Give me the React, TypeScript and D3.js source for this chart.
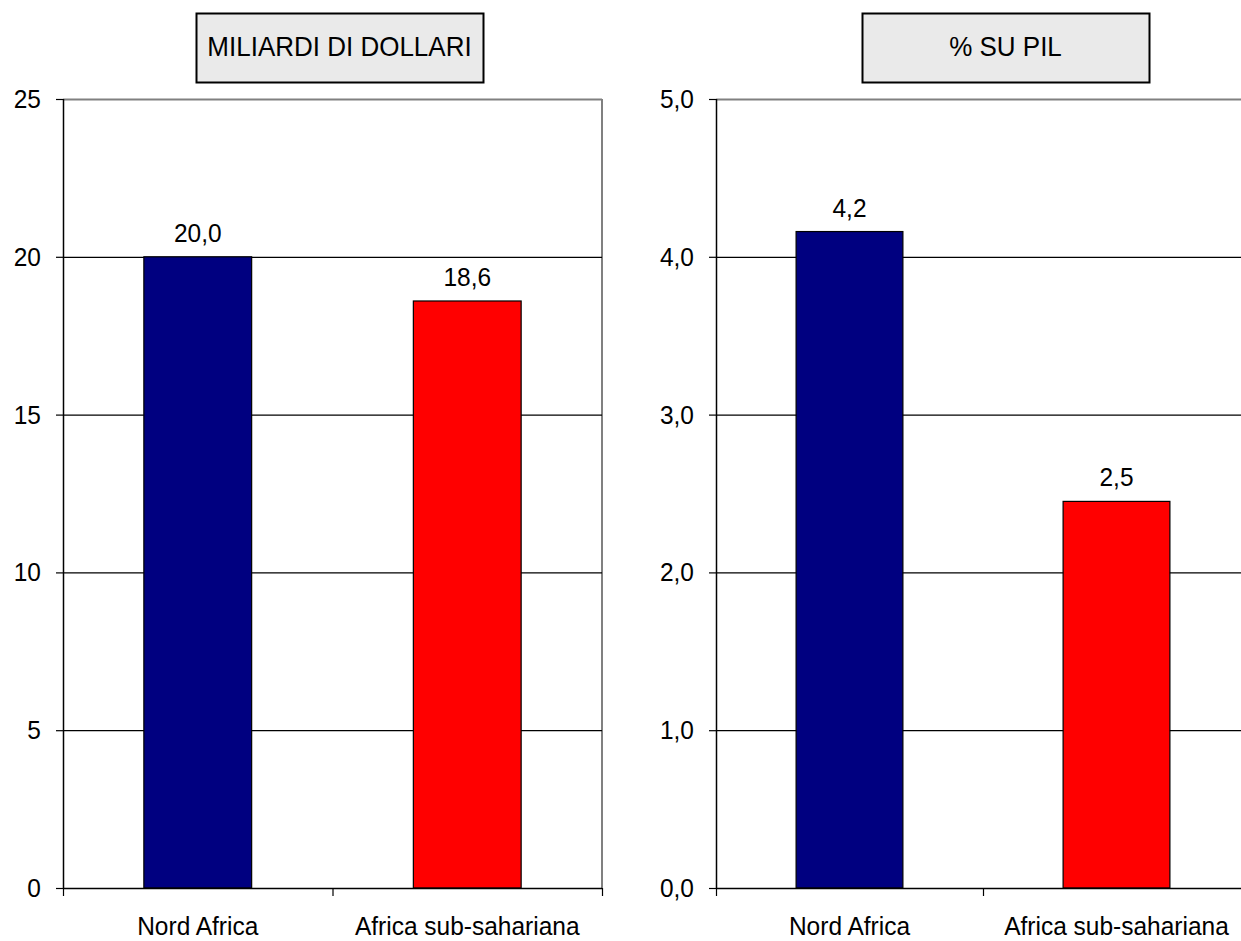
import React from "react";
import * as d3 from "d3";

const categories = ["Nord Africa", "Africa sub-sahariana"];
const valuesBillions = [20.0, 18.6];
const valuesGdpPct = [4.16, 2.45];
const ticksBillions = [0, 5, 10, 15, 20, 25];
const ticksGdp = [0, 1, 2, 3, 4, 5];
const barColors = ["#000080", "#FF0000"];
const titles = ["MILIARDI DI DOLLARI", "% SU PIL"];

const FONT = "'Liberation Sans', Arial, sans-serif";
const TOP = 99;
const BOTTOM = 888;
const STRETCH = 1.08;

function Txt({ x, y, size, anchor, children }: { x: number; y: number; size: number; anchor: string; children: React.ReactNode }) {
  return (
    <text
      transform={`translate(${x},${y}) scale(1,${STRETCH})`}
      textAnchor={anchor}
      fontFamily={FONT}
      fontSize={size}
      fill="#000"
    >
      {children}
    </text>
  );
}

type PanelProps = {
  x0: number;
  x1: number;
  values: number[];
  ticks: number[];
  max: number;
  tickFmt: (v: number) => string;
  title: string;
  titleBox: [number, number];
  showRight: boolean;
};

function Panel({ x0, x1, values, ticks, max, tickFmt, title, titleBox, showRight }: PanelProps) {
  const x = d3.scaleBand<string>().domain(categories).range([x0, x1]).padding(0);
  const y = d3.scaleLinear().domain([0, max]).range([BOTTOM, TOP]);
  const bw = x.bandwidth() * 0.4;
  const fmt = (v: number) => d3.format(".1f")(v).replace(".", ",");
  return (
    <g>
      <rect x={titleBox[0] + 0.5} y={13.5} width={titleBox[1] - titleBox[0]} height={69} fill="#EAEAEA" stroke="#000" strokeWidth={2} />
      <Txt x={(titleBox[0] + titleBox[1]) / 2} y={56} size={26} anchor="middle">
        {title}
      </Txt>
      <line x1={x0} x2={x1} y1={y(max) + 0.5} y2={y(max) + 0.5} stroke="#808080" strokeWidth={2} />
      {showRight && <line x1={x1} x2={x1} y1={TOP} y2={BOTTOM} stroke="#808080" strokeWidth={2} />}
      {ticks.filter((t) => t !== 0 && t !== max).map((t) => (
        <line key={t} x1={x0} x2={x1} y1={y(t) + 0.5} y2={y(t) + 0.5} stroke="#000" strokeWidth={1.2} />
      ))}
      {values.map((v, i) => {
        const cx = (x(categories[i]) as number) + x.bandwidth() / 2;
        return (
          <g key={i}>
            <rect x={cx - bw / 2} y={y(v)} width={bw} height={BOTTOM - y(v)} fill={barColors[i]} stroke="#000" strokeWidth={1.2} />
            <Txt x={cx} y={y(v) - 15} size={24.5} anchor="middle">
              {fmt(v)}
            </Txt>
            <Txt x={cx} y={935} size={24.5} anchor="middle">
              {categories[i]}
            </Txt>
          </g>
        );
      })}
      <line x1={x0 + 0.5} x2={x0 + 0.5} y1={TOP} y2={BOTTOM} stroke="#000" strokeWidth={1.5} />
      {ticks.map((t) => (
        <g key={t}>
          <line x1={x0 - 7} x2={x0} y1={y(t) + 0.5} y2={y(t) + 0.5} stroke="#000" strokeWidth={1.2} />
          <Txt x={x0 - 22} y={y(t) + 9} size={24.5} anchor="end">
            {tickFmt(t)}
          </Txt>
        </g>
      ))}
      <line x1={x0} x2={x1} y1={BOTTOM + 0.5} y2={BOTTOM + 0.5} stroke="#000" strokeWidth={1.5} />
      {[x0, x0 + x.bandwidth(), x1].map((tx, i) => (
        <line key={i} x1={tx + 0.5} x2={tx + 0.5} y1={BOTTOM} y2={BOTTOM + 8} stroke="#000" strokeWidth={1.2} />
      ))}
    </g>
  );
}

export default function App() {
  return (
    <svg width={1241} height={941} style={{ position: "absolute", left: 0, top: 0, background: "#fff" }}>
      <rect width={1241} height={941} fill="#fff" />
      <Panel
        x0={63}
        x1={602}
        values={valuesBillions}
        ticks={ticksBillions}
        max={25}
        tickFmt={(v) => String(v)}
        title={titles[0]}
        titleBox={[196, 483]}
        showRight={true}
      />
      <Panel
        x0={716}
        x1={1250}
        values={valuesGdpPct}
        ticks={ticksGdp}
        max={5}
        tickFmt={(v) => d3.format(".1f")(v).replace(".", ",")}
        title={titles[1]}
        titleBox={[862, 1149]}
        showRight={false}
      />
    </svg>
  );
}
